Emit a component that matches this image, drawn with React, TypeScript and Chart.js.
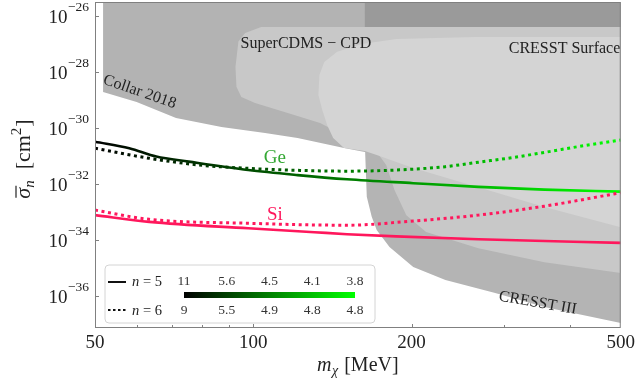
import React, { useEffect, useRef } from "react";
import { Chart, registerables } from "chart.js";
Chart.register(...registerables);

const W = 639;
const H = 389;
const SERIF = '"Liberation Serif", "DejaVu Serif", serif';

// Axis ranges (y stored as log10 of sigma in cm^2)
const xMin = 50;
const xMax = 500;
const yMinExp = -37.13;
const yMaxExp = -25.49;
const xTickValues = [50, 100, 200, 500];
const xMinorTickValues = [60, 70, 80, 90, 300, 400];
const yTickExps = [-36, -34, -32, -30, -28, -26];

// Ge, n = 5 (solid)
const geN5Mass = [50, 58.1, 65.4, 75.4, 97.8, 121.4, 150.8, 201.5, 268, 358, 500];
const geN5Log = [-30.48, -30.71, -31.01, -31.19, -31.49, -31.67, -31.82, -31.96, -32.09, -32.19, -32.26];
// Ge, n = 6 (dotted)
const geN6Mass = [50, 63.4, 78.8, 97.8, 121.4, 150.8, 201.5, 232, 268, 310, 358, 413, 500];
const geN6Log = [-30.71, -31.07, -31.31, -31.43, -31.5, -31.53, -31.46, -31.37, -31.21, -31.05, -30.86, -30.66, -30.42];
// Si, n = 5 (solid)
const siN5Mass = [50, 63.4, 97.8, 130.7, 150.8, 187, 268, 500];
const siN5Log = [-33.1, -33.34, -33.57, -33.71, -33.78, -33.86, -33.96, -34.09];
// Si, n = 6 (dotted)
const siN6Mass = [50, 63.4, 97.8, 150.8, 201.5, 268, 358, 500];
const siN6Log = [-32.92, -33.25, -33.39, -33.46, -33.31, -33.1, -32.78, -32.3];

// Excluded regions (closed outlines): mass [MeV], log10 sigma
const collarMass = [51.8, 51.8, 60, 71.3, 87, 105.3, 121.4, 140, 148.8, 163, 500, 500];
const collarLog = [-25, -28.7, -29.06, -29.63, -29.95, -30.17, -30.35, -30.6, -30.7, -30.85, -30.85, -25];

const cresstIIIMass = [163, 163.2, 164.4, 168, 171.7, 181.6, 201.5, 232, 288.5, 358, 500, 500];
const cresstIIILog = [-25, -30.82, -32.44, -33.16, -33.63, -34.24, -34.95, -35.42, -35.88, -36.38, -36.95, -25];

const overlapMass = [163, 500, 500, 163];
const overlapLog = [-25, -25, -26.38, -26.38];

const superCdmsMass = [92.5, 93.7, 96.5, 103.5, 500, 500, 358, 268, 213.2, 195.5, 185.6, 179, 171.7, 163, 150.8, 134, 116.3, 100.8, 94.9, 92.9];
const superCdmsLog = [-27.81, -26.9, -26.6, -26.38, -26.38, -35.17, -34.78, -34.28, -33.7, -33.1, -32.2, -31.31, -30.85, -30.78, -30.31, -29.81, -29.45, -29.1, -28.88, -28.52];

const cresstSurfMass = [133, 133.6, 136.5, 144.4, 160.9, 187.2, 264.7, 500, 500, 358, 268, 201.5, 171.7, 163, 148.8, 141.9, 138.2, 135.3];
const cresstSurfLog = [-28.81, -28.1, -27.63, -27.27, -26.99, -26.81, -26.74, -26.74, -33.53, -32.81, -32.1, -31.42, -30.95, -30.81, -30.7, -30.35, -29.88, -29.35];

// Legend colour bar labels
const cbarTopLabels = ["11", "5.6", "4.5", "4.1", "3.8"];
const cbarBottomLabels = ["9", "5.5", "4.9", "4.8", "4.8"];

const GE_LABEL_COLOR = "#35a835";
const SI_COLOR = "#ff175c";

const pts = (ms: number[], ls: number[]) => ms.map((m, i) => ({ x: m, y: Math.pow(10, ls[i]) }));

type Part = { t: string; font: string; dy?: number; dx?: number };
function drawRich(ctx: CanvasRenderingContext2D, parts: Part[], x: number, y: number, align: string) {
  let total = 0;
  for (const p of parts) {
    ctx.font = p.font;
    total += ctx.measureText(p.t).width + (p.dx || 0);
  }
  let cx = align === "right" ? x - total : align === "center" ? x - total / 2 : x;
  const starts: number[] = [];
  for (const p of parts) {
    ctx.font = p.font;
    cx += p.dx || 0;
    starts.push(cx);
    ctx.fillText(p.t, cx, y + (p.dy || 0));
    cx += ctx.measureText(p.t).width;
  }
  return starts;
}

function rotText(ctx: CanvasRenderingContext2D, text: string, x: number, y: number, deg: number, font: string) {
  ctx.save();
  ctx.translate(x, y);
  ctx.rotate((deg * Math.PI) / 180);
  ctx.font = font;
  ctx.textAlign = "center";
  ctx.textBaseline = "middle";
  ctx.fillText(text, 0, 0);
  ctx.restore();
}

const overlay = {
  id: "overlay",
  afterDraw(chart: any) {
    const { ctx, chartArea: a, scales } = chart;
    const xs = scales.x;
    const ys = scales.y;
    const X = (m: number) => xs.getPixelForValue(m);
    const Y = (e: number) => ys.getPixelForValue(Math.pow(10, e));
    ctx.save();

    // region labels
    ctx.fillStyle = "#222";
    ctx.textBaseline = "middle";
    ctx.textAlign = "left";
    ctx.font = `16px ${SERIF}`;
    ctx.fillText("SuperCDMS \u2212 CPD", X(94.6), Y(-27.0));
    ctx.textAlign = "right";
    ctx.fillText("CRESST Surface", X(499), Y(-27.17));
    rotText(ctx, "Collar 2018", X(60.8), Y(-28.7), 19, `16px ${SERIF}`);
    rotText(ctx, "CRESST III", X(347.6), Y(-36.24), 10, `16px ${SERIF}`);

    // material labels
    ctx.fillStyle = GE_LABEL_COLOR;
    ctx.textAlign = "center";
    ctx.font = `19px ${SERIF}`;
    ctx.fillText("Ge", X(109.9), Y(-31.06));
    ctx.fillStyle = SI_COLOR;
    ctx.fillText("Si", X(109.9), Y(-33.1));

    // frame
    ctx.strokeStyle = "#808080";
    ctx.lineWidth = 1;
    ctx.strokeRect(a.left + 0.5, a.top + 0.5, a.right - a.left - 1, a.bottom - a.top - 1);

    // ticks (inward)
    ctx.beginPath();
    for (const v of xTickValues.slice(1, -1)) {
      const px = Math.round(X(v)) + 0.5;
      ctx.moveTo(px, a.bottom);
      ctx.lineTo(px, a.bottom - 4);
    }
    for (const v of xMinorTickValues) {
      const px = Math.round(X(v)) + 0.5;
      ctx.moveTo(px, a.bottom);
      ctx.lineTo(px, a.bottom - 3);
    }
    for (const e of yTickExps) {
      const py = Math.round(Y(e)) + 0.5;
      ctx.moveTo(a.left, py);
      ctx.lineTo(a.left + 4, py);
    }
    ctx.stroke();

    // y tick labels
    ctx.fillStyle = "#222";
    ctx.textAlign = "left";
    ctx.textBaseline = "alphabetic";
    for (const e of yTickExps) {
      drawRich(
        ctx,
        [
          { t: "10", font: `19px ${SERIF}`, dy: 6.5 },
          { t: "\u2212" + Math.abs(e), font: `13.5px ${SERIF}`, dy: -5.5, dx: 0.5 },
        ],
        a.left - 6,
        Y(e),
        "right"
      );
    }

    // x axis title
    drawRich(
      ctx,
      [
        { t: "m", font: `italic 20px ${SERIF}` },
        { t: "\u03c7", font: `italic 14px ${SERIF}`, dy: 4, dx: 0.5 },
        { t: " [MeV]", font: `20px ${SERIF}`, dx: 1 },
      ],
      (a.left + a.right) / 2,
      371,
      "center"
    );

    // y axis title (rotated)
    ctx.save();
    ctx.translate(30, 159);
    ctx.rotate(-Math.PI / 2);
    const st = drawRich(
      ctx,
      [
        { t: "\u03c3", font: `italic 22px ${SERIF}` },
        { t: "n", font: `italic 15px ${SERIF}`, dy: 4 },
        { t: "  [cm", font: `22px ${SERIF}` },
        { t: "2", font: `15px ${SERIF}`, dy: -9 },
        { t: "]", font: `22px ${SERIF}`, dx: 1 },
      ],
      0,
      0,
      "center"
    );
    ctx.font = `italic 22px ${SERIF}`;
    const sw = ctx.measureText("\u03c3").width;
    ctx.strokeStyle = "#222";
    ctx.lineWidth = 1.2;
    ctx.beginPath();
    ctx.moveTo(st[0] + 1, -14);
    ctx.lineTo(st[0] + sw + 2, -14);
    ctx.stroke();
    ctx.restore();

    // legend
    const L = a.left + 10;
    const T = 265;
    const R = 375;
    const B = a.bottom - 5;
    const r = 4;
    ctx.beginPath();
    ctx.moveTo(L + r, T);
    ctx.lineTo(R - r, T);
    ctx.quadraticCurveTo(R, T, R, T + r);
    ctx.lineTo(R, B - r);
    ctx.quadraticCurveTo(R, B, R - r, B);
    ctx.lineTo(L + r, B);
    ctx.quadraticCurveTo(L, B, L, B - r);
    ctx.lineTo(L, T + r);
    ctx.quadraticCurveTo(L, T, L + r, T);
    ctx.closePath();
    ctx.fillStyle = "rgba(255,255,255,0.85)";
    ctx.fill();
    ctx.strokeStyle = "#d4d4d4";
    ctx.lineWidth = 1;
    ctx.stroke();

    ctx.strokeStyle = "#111";
    ctx.lineWidth = 2;
    ctx.beginPath();
    ctx.moveTo(L + 3, 282);
    ctx.lineTo(L + 21, 282);
    ctx.stroke();
    ctx.setLineDash([2.5, 2.5]);
    ctx.beginPath();
    ctx.moveTo(L + 3, 310);
    ctx.lineTo(L + 21, 310);
    ctx.stroke();
    ctx.setLineDash([]);

    ctx.fillStyle = "#222";
    drawRich(ctx, [{ t: "n", font: `italic 14.5px ${SERIF}` }, { t: " = 5", font: `14.5px ${SERIF}` }], L + 27, 286, "left");
    drawRich(ctx, [{ t: "n", font: `italic 14.5px ${SERIF}` }, { t: " = 6", font: `14.5px ${SERIF}` }], L + 27, 314.5, "left");

    const cbL = 184;
    const cbR = 355;
    const g = ctx.createLinearGradient(cbL, 0, cbR, 0);
    g.addColorStop(0, "#000000");
    g.addColorStop(1, "#00ff00");
    ctx.fillStyle = g;
    ctx.fillRect(cbL, 292, cbR - cbL, 6);
    ctx.fillStyle = "#333";
    ctx.textAlign = "center";
    ctx.font = `13.5px ${SERIF}`;
    const step = (cbR - cbL) / (cbarTopLabels.length - 1);
    cbarTopLabels.forEach((t, i) => ctx.fillText(t, cbL + i * step, 285));
    cbarBottomLabels.forEach((t, i) => ctx.fillText(t, cbL + i * step, 314));

    ctx.restore();
  },
};

export default function App() {
  const ref = useRef<HTMLCanvasElement | null>(null);
  useEffect(() => {
    if (!ref.current) return;
    const geGradient = (c: any) => {
      const a = c.chart.chartArea;
      if (!a) return "#000";
      const g = c.chart.ctx.createLinearGradient(a.left, 0, a.right, 0);
      g.addColorStop(0, "#000000");
      g.addColorStop(1, "#00ff00");
      return g;
    };
    const region = (ms: number[], ls: number[], color: string, order: number) => ({
      data: pts(ms, ls),
      fill: "shape",
      backgroundColor: color,
      borderColor: "rgba(0,0,0,0)",
      borderWidth: 0,
      pointRadius: 0,
      tension: 0,
      order,
    });
    const line = (ms: number[], ls: number[], color: any, dashed: boolean, order: number) => ({
      data: pts(ms, ls),
      fill: false,
      borderColor: color,
      borderWidth: dashed ? 3 : 2.6,
      borderDash: dashed ? [3, 3.6] : [],
      borderCapStyle: "butt",
      pointRadius: 0,
      cubicInterpolationMode: "monotone",
      order,
    });
    const chart = new Chart(ref.current, {
      type: "line",
      data: {
        datasets: [
          region(collarMass, collarLog, "#b3b3b3", 20),
          region(cresstIIIMass, cresstIIILog, "#b4b4b4", 19),
          region(superCdmsMass, superCdmsLog, "#c8c8c8", 18),
          region(cresstSurfMass, cresstSurfLog, "#d4d4d4", 17),
          region(overlapMass, overlapLog, "#9a9a9a", 16),
          line(geN6Mass, geN6Log, geGradient, true, 4),
          line(geN5Mass, geN5Log, geGradient, false, 3),
          line(siN6Mass, siN6Log, SI_COLOR, true, 2),
          line(siN5Mass, siN5Log, SI_COLOR, false, 1),
        ] as any,
      },
      options: {
        responsive: false,
        animation: false,
        devicePixelRatio: 1,
        layout: { padding: { top: 2, right: 12, left: 0, bottom: 0 } },
        plugins: { legend: { display: false }, tooltip: { enabled: false } },
        events: [],
        scales: {
          x: {
            type: "logarithmic",
            min: xMin,
            max: xMax,
            afterBuildTicks: (s: any) => {
              s.ticks = xTickValues.map((v) => ({ value: v }));
            },
            afterFit: (s: any) => {
              s.height = 61;
            },
            grid: { display: false, drawTicks: false },
            border: { display: false },
            ticks: {
              autoSkip: false,
              maxRotation: 0,
              padding: 4,
              color: "#222",
              font: { family: SERIF, size: 19 },
              callback: (v: any) => String(v),
            },
          },
          y: {
            type: "logarithmic",
            min: Math.pow(10, yMinExp),
            max: Math.pow(10, yMaxExp),
            afterBuildTicks: (s: any) => {
              s.ticks = yTickExps.map((e) => ({ value: Math.pow(10, e) }));
            },
            afterFit: (s: any) => {
              s.width = 95;
            },
            grid: { display: false, drawTicks: false },
            border: { display: false },
            ticks: { display: false },
          },
        },
      } as any,
      plugins: [overlay],
    });
    return () => chart.destroy();
  }, []);
  return (
    <div style={{ position: "fixed", left: 0, top: 0, width: W, height: H, background: "#fff" }}>
      <canvas ref={ref} width={W} height={H} style={{ display: "block", width: W, height: H }} />
    </div>
  );
}
